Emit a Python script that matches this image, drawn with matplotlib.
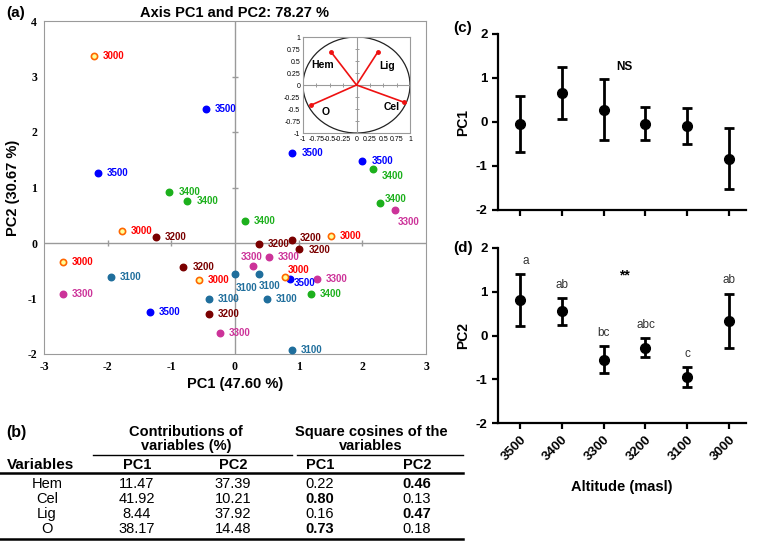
import matplotlib
matplotlib.use("Agg")
import matplotlib.pyplot as plt
import numpy as np
from matplotlib.patches import Circle

plt.rcParams['font.family'] = ['Liberation Sans', 'DejaVu Sans']
plt.rcParams['axes.unicode_minus'] = False

# PCA scores per altitude (PC1, PC2)
altitudes = ['3500', '3400', '3300', '3200', '3100', '3000']
pc1_3500 = [-0.46, -2.15, -1.34, 0.87, 0.90, 2.00]
pc2_3500 = [2.42, 1.26, -1.25, -0.64, 1.62, 1.48]
pc1_3400 = [-1.03, -0.75, 0.15, 1.19, 2.16, 2.27]
pc2_3400 = [0.92, 0.75, 0.39, -0.91, 1.34, 0.72]
pc1_3300 = [-2.70, -0.24, 2.52, 0.53, 0.29, 1.29]
pc2_3300 = [-0.91, -1.63, 0.60, -0.26, -0.42, -0.65]
pc1_3200 = [-1.24, -0.81, -0.41, 0.38, 0.89, 1.01]
pc2_3200 = [0.10, -0.43, -1.28, -0.02, 0.05, -0.10]
pc1_3100 = [-1.95, -0.41, 0.00, 0.37, 0.50, 0.89]
pc2_3100 = [-0.61, -1.00, -0.56, -0.56, -1.01, -1.93]
pc1_3000 = [-2.22, -1.78, -2.70, -0.57, 1.51, 0.78]
pc2_3000 = [3.37, 0.22, -0.35, -0.67, 0.12, -0.62]

# correlation circle loadings
variables = ['Hem', 'Cel', 'Lig', 'O']
load_pc1 = [-0.47, 0.89, 0.40, -0.85]
load_pc2 = [0.68, -0.36, 0.69, -0.42]

# table values
contrib_pc1 = ['11.47', '41.92', '8.44', '38.17']
contrib_pc2 = ['37.39', '10.21', '37.92', '14.48']
cos2_pc1 = ['0.22', '0.80', '0.16', '0.73']
cos2_pc2 = ['0.46', '0.13', '0.47', '0.18']

# mean +- error of scores by altitude
pc1_mean = [-0.04, 0.66, 0.28, -0.04, -0.10, -0.83]
pc1_err = [0.64, 0.59, 0.70, 0.38, 0.41, 0.70]
pc2_mean = [0.81, 0.55, -0.55, -0.28, -0.95, 0.34]
pc2_err = [0.59, 0.31, 0.30, 0.22, 0.22, 0.62]
pc2_letters = ['a', 'ab', 'bc', 'abc', 'c', 'ab']

scores = {
    '3500': (pc1_3500, pc2_3500), '3400': (pc1_3400, pc2_3400),
    '3300': (pc1_3300, pc2_3300), '3200': (pc1_3200, pc2_3200),
    '3100': (pc1_3100, pc2_3100), '3000': (pc1_3000, pc2_3000),
}
marker_col = {'3500': '#0000ff', '3400': '#1cb01c', '3300': '#cc3399',
              '3200': '#7a0000', '3100': '#1f6e9c', '3000': '#ff6600'}
label_col = dict(marker_col, **{'3000': '#ff0000'})
# label offsets in pixels (default: right of point)
label_shift = {('3500', 3): (3, -4), ('3400', 4): (9, -7), ('3400', 5): (5, 4),
               ('3300', 2): (2, -12), ('3300', 4): (-13, 9), ('3200', 4): (8, 2),
               ('3200', 5): (9, -1),
               ('3100', 2): (1, -14), ('3100', 3): (0, -12), ('3000', 5): (3, 7)}

fig = plt.figure(figsize=(7.57, 5.47), dpi=100)
W, H = 757, 547

def box(l, t, r, b):
    return [l / W, 1 - b / H, (r - l) / W, (b - t) / H]

# ---------------- (a) score plot
ax = fig.add_axes(box(44, 21, 426, 354))
grey = '#9a9a9a'
ax.axhline(0, color=grey, lw=1, zorder=0)
ax.axvline(0, color=grey, lw=1, zorder=0)
xt = np.array([-2, -1, 1, 2])
yt = np.array([-1, 1, 2, 3])
ax.plot(xt, np.zeros_like(xt), '|', color=grey, ms=5, mew=1, zorder=0)
ax.plot(np.zeros_like(yt), yt, '_', color=grey, ms=5, mew=1, zorder=0)
for alt in altitudes:
    xs, ys = scores[alt]
    if alt == '3000':
        ax.scatter(xs, ys, s=20, facecolor='#ffff99', edgecolor=marker_col[alt],
                   linewidth=1.2, zorder=3)
    else:
        ax.scatter(xs, ys, s=22, color=marker_col[alt], zorder=3)
    for i, (x, y) in enumerate(zip(xs, ys)):
        dx, dy = label_shift.get((alt, i), (9, 0))
        ax.annotate(alt, (x, y), xytext=(dx, dy), textcoords='offset pixels',
                    ha='left', va='center', fontsize=7, fontweight='bold',
                    color=label_col[alt], zorder=4)
ax.set_xlim(-3, 3)
ax.set_ylim(-2, 4)
ax.set_xticks(range(-3, 4))
ax.set_yticks(range(-2, 5))
ax.tick_params(length=0, pad=5)
for lab in ax.get_xticklabels() + ax.get_yticklabels():
    lab.set_fontfamily('Liberation Serif')
    lab.set_fontweight('bold')
    lab.set_fontsize(8.5)
for s in ax.spines.values():
    s.set_color(grey)
ax.set_xlabel('PC1 (47.60 %)', fontsize=10.5, fontweight='bold', labelpad=3)
ax.set_ylabel('PC2 (30.67 %)', fontsize=10.5, fontweight='bold', labelpad=5)
ax.set_title('Axis PC1 and PC2: 78.27 %', fontsize=10.5, fontweight='bold', pad=3)

# inset correlation circle
axi = fig.add_axes(box(303, 37, 410, 133))
axi.axhline(0, color=grey, lw=0.8)
axi.axvline(0, color=grey, lw=0.8)
it = np.arange(-0.75, 1.0, 0.25)
it = it[it != 0]
axi.plot(it, np.zeros_like(it), '|', color=grey, ms=3, mew=0.7)
axi.plot(np.zeros_like(it), it, '_', color=grey, ms=3, mew=0.7)
axi.add_patch(Circle((0, 0), 1, fill=False, color='#222222', lw=0.9))
for v, x, y in zip(variables, load_pc1, load_pc2):
    axi.plot([0, x], [0, y], color='#ee1111', lw=1.2)
    axi.plot(x, y, 'o', color='#ee1111', ms=2.5)
name_pos = {'Hem': (-0.63, 0.42), 'Lig': (0.58, 0.40), 'Cel': (0.66, -0.45), 'O': (-0.57, -0.57)}
for v in variables:
    axi.text(*name_pos[v], v, fontsize=7.5, fontweight='bold', ha='center', va='center')
axi.set_xlim(-1, 1)
axi.set_ylim(-1, 1)
ticks_i = np.arange(-1, 1.01, 0.25)
tl = ['%g' % t for t in ticks_i]
axi.set_xticks(ticks_i)
axi.set_xticklabels(tl)
axi.set_yticks(ticks_i)
axi.set_yticklabels(tl)
axi.tick_params(length=0, labelsize=5, pad=2)
for s in axi.spines.values():
    s.set_color(grey)

fig.text(6 / W, 1 - 13 / H, '(a)', fontsize=11, fontweight='bold', va='center')

# ---------------- (b) table
axt = fig.add_axes([0, 0, 1, 1], zorder=-1)
axt.set_xlim(0, W)
axt.set_ylim(H, 0)
axt.axis('off')
hs = 10.5
axt.text(6, 432, '(b)', fontsize=11.5, fontweight='bold', va='center')
axt.text(186, 432, 'Contributions of', fontsize=hs, fontweight='bold', ha='center', va='center')
axt.text(186, 446, 'variables (%)', fontsize=hs, fontweight='bold', ha='center', va='center')
axt.text(371, 432, 'Square cosines of the', fontsize=hs, fontweight='bold', ha='center', va='center')
axt.text(371, 446, 'variables', fontsize=hs, fontweight='bold', ha='center', va='center')
axt.plot([93, 292], [455, 455], color='black', lw=1)
axt.plot([297, 463], [455, 455], color='black', lw=1)
col_x = [137, 233, 320, 417]
axt.text(41, 465, 'Variables', fontsize=11, fontweight='bold', ha='center', va='center')
for cx, h in zip(col_x, ['PC1', 'PC2', 'PC1', 'PC2']):
    axt.text(cx, 465, h, fontsize=hs, fontweight='bold', ha='center', va='center')
axt.plot([0, 463], [473, 473], color='black', lw=1.8)
row_y = [484, 499, 514, 529]
for j, v in enumerate(variables):
    axt.text(47, row_y[j], v, fontsize=10.5, ha='center', va='center')
    cols = [contrib_pc1[j], contrib_pc2[j], cos2_pc1[j], cos2_pc2[j]]
    for k, val in enumerate(cols):
        bold = k >= 2 and float(val) >= 0.4
        axt.text(col_x[k], row_y[j], val, fontsize=10.5, ha='center', va='center',
                 fontweight='bold' if bold else 'normal')
axt.plot([0, 463], [539, 539], color='black', lw=1.8)

# ---------------- (c) and (d)
xpos = np.arange(len(altitudes))

def style(a):
    a.spines['top'].set_visible(False)
    a.spines['right'].set_visible(False)
    a.spines['left'].set_linewidth(1.6)
    a.spines['bottom'].set_linewidth(1.6)
    a.tick_params(width=1.6, length=4, labelsize=9.5)
    a.set_xlim(-0.52, 5.4)
    a.set_ylim(-2, 2)
    a.set_yticks([-2, -1, 0, 1, 2])
    a.set_xticks(xpos)
    for lab in a.get_yticklabels():
        lab.set_fontweight('bold')

axc = fig.add_axes(box(498, 34, 746, 210))
axc.errorbar(xpos, pc1_mean, yerr=pc1_err, fmt='o', color='black', ms=7,
             elinewidth=2, capsize=3.5, capthick=2)
style(axc)
axc.set_xticklabels([])
axc.set_ylabel('PC1', fontsize=10, fontweight='bold', labelpad=4)
axc.text(2.5, 1.26, 'NS', fontsize=8.5, fontweight='bold', ha='center', va='center')
fig.text(453 / W, 1 - 28 / H, '(c)', fontsize=11, fontweight='bold', va='center')

axd = fig.add_axes(box(498, 248, 746, 423))
axd.errorbar(xpos, pc2_mean, yerr=pc2_err, fmt='o', color='black', ms=7,
             elinewidth=2, capsize=3.5, capthick=2)
style(axd)
axd.set_xticklabels(altitudes, rotation=45, ha='right', rotation_mode='anchor',
                    fontweight='bold')
for x, m, e, let in zip(xpos, pc2_mean, pc2_err, pc2_letters):
    axd.text(x + (0.15 if let == 'a' else 0), m + e + 0.3, let, fontsize=8.5,
             color='#333333', ha='center', va='center')
axd.text(2.5, 1.38, '**', fontsize=10, fontweight='bold', ha='center', va='center')
axd.set_ylabel('PC2', fontsize=10, fontweight='bold', labelpad=4)
axd.set_xlabel('Altitude (masl)', fontsize=10.5, fontweight='bold', labelpad=12)
fig.text(453 / W, 1 - 248 / H, '(d)', fontsize=11, fontweight='bold', va='center')

fig.savefig('out.png', dpi=100)
